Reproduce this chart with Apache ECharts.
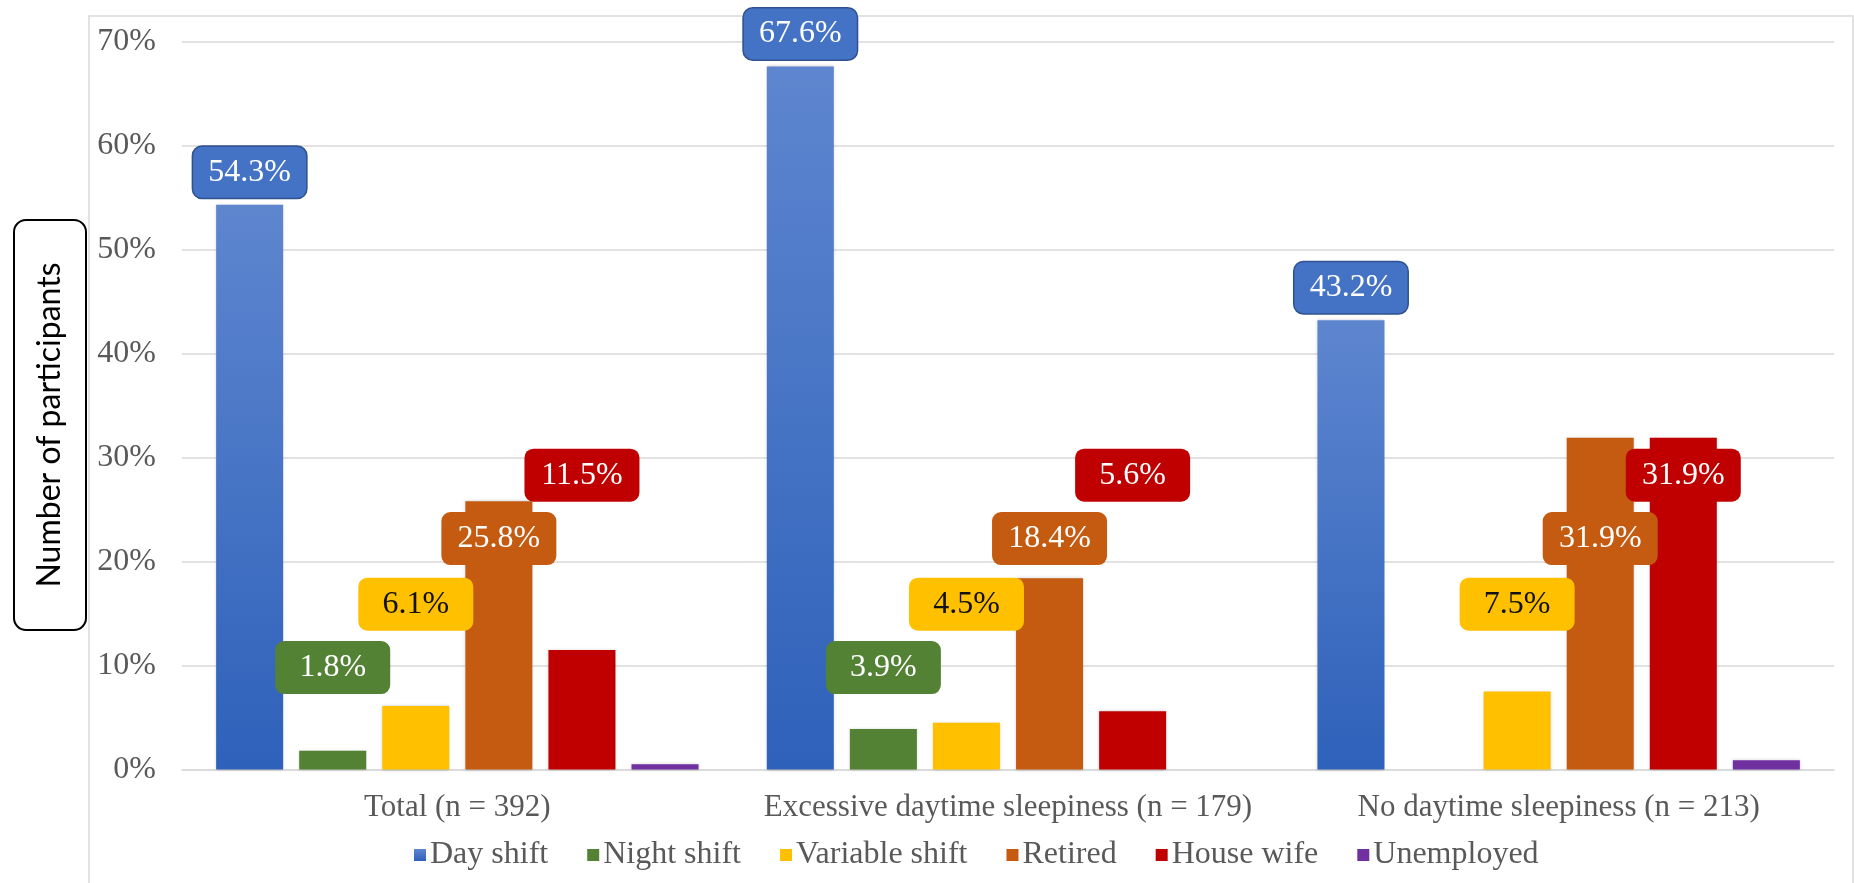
<!DOCTYPE html>
<html>
<head>
<meta charset="utf-8">
<script src="https://cdn.jsdelivr.net/npm/echarts@6/dist/echarts.min.js"></script>
<style>
  html, body { margin: 0; padding: 0; background: #ffffff; }
  #chart { width: 1854px; height: 883px; }
</style>
</head>
<body>
<div id="chart"></div>
<script>
// Occupation of participants by daytime sleepiness group (percent of each group)
const groups = ['Total (n = 392)', 'Excessive daytime sleepiness (n = 179)', 'No daytime sleepiness (n = 213)'];
const seriesNames = ['Day shift', 'Night shift', 'Variable shift', 'Retired', 'House wife', 'Unemployed'];
const dayShift = [54.3, 67.6, 43.2];
const nightShift = [1.8, 3.9, 0];
const variableShift = [6.1, 4.5, 7.5];
const retired = [25.8, 18.4, 31.9];
const houseWife = [11.5, 5.6, 31.9];
const unemployed = [0.5, 0, 0.9];
const yTicks = [0, 10, 20, 30, 40, 50, 60, 70];

const SERIF = '"Liberation Serif", "Times New Roman", serif';
const TEXT_GREY = '#595959';
const GRID_GREY = '#d9d9d9';

const colors = {
  day: '#4472C4',
  dayBorder: '#2F528F',
  night: '#548235',
  variable: '#FFC000',
  retired: '#C55A11',
  houseWife: '#C00000',
  unemployed: '#7030A0'
};

const pct = v => v.toFixed(1) + '%';

// Rounded callout box, 115 x 53 with 9px corners
const CALLOUT_PATH = 'path://M9,0 H106 A9,9 0 0 1 115,9 V44 A9,9 0 0 1 106,53 H9 A9,9 0 0 1 0,44 V9 A9,9 0 0 1 9,0 Z';

// Callout boxes that float at a fixed height above each group's bar
function callouts(values, level, fill, textColor) {
  const data = [];
  values.forEach((v, i) => {
    if (v > 0) data.push({ coord: [i, level], value: v });
  });
  return {
    symbol: CALLOUT_PATH,
    symbolSize: [115, 53],
    symbolKeepAspect: false,
    silent: true,
    itemStyle: { color: fill },
    label: {
      show: true,
      position: 'inside',
      formatter: p => pct(p.value),
      color: textColor,
      fontFamily: SERIF,
      fontSize: 32
    },
    data: data
  };
}

const barShadow = { shadowBlur: 3, shadowColor: 'rgba(0,0,0,0.22)' };

function bar(name, values, color, extra) {
  return Object.assign({
    name: name,
    type: 'bar',
    data: values,
    barWidth: 67,
    barGap: '24%',
    itemStyle: Object.assign({ color: color }, barShadow)
  }, extra || {});
}

const chart = echarts.init(document.getElementById('chart'), null, { renderer: 'canvas' });

chart.setOption({
  animation: false,
  backgroundColor: '#ffffff',
  color: [colors.day, colors.night, colors.variable, colors.retired, colors.houseWife, colors.unemployed],
  grid: { left: 182, right: 20, top: 41.5, bottom: 113.5, containLabel: false },
  graphic: [
    {
      type: 'rect', z: -10, silent: true,
      shape: { x: 89, y: 16, width: 1764, height: 900 },
      style: { fill: 'none', stroke: GRID_GREY, lineWidth: 1.5 }
    },
    {
      type: 'rect', silent: true,
      shape: { x: 14, y: 220, width: 72, height: 410, r: 12 },
      style: { fill: '#ffffff', stroke: '#000000', lineWidth: 2 }
    },
    {
      type: 'text', silent: true,
      x: 50, y: 425, rotation: Math.PI / 2,
      style: {
        text: 'Number of participants',
        font: '32px Lato, "Open Sans", sans-serif',
        fill: '#000000',
        align: 'center',
        verticalAlign: 'middle'
      }
    }
  ],
  legend: {
    data: seriesNames,
    left: 409,
    top: 834,
    icon: 'rect',
    itemWidth: 12,
    itemHeight: 12,
    itemGap: 39,
    textStyle: { fontFamily: SERIF, fontSize: 32, color: TEXT_GREY, padding: [0, 0, 0, -1] }
  },
  xAxis: {
    type: 'category',
    data: groups,
    axisTick: { show: false },
    axisLine: { show: true, lineStyle: { color: GRID_GREY, width: 1.5 } },
    axisLabel: { interval: 0, color: TEXT_GREY, fontFamily: SERIF, fontSize: 31, margin: 23 }
  },
  yAxis: {
    type: 'value',
    min: yTicks[0],
    max: yTicks[yTicks.length - 1],
    interval: yTicks[1] - yTicks[0],
    axisLine: { show: false },
    axisTick: { show: false },
    splitLine: { lineStyle: { color: GRID_GREY, width: 1.5 } },
    axisLabel: { formatter: '{value}%', color: TEXT_GREY, fontFamily: SERIF, fontSize: 32, margin: 26 }
  },
  series: [
    bar(seriesNames[0], dayShift, colors.day, {
      itemStyle: Object.assign({
        color: new echarts.graphic.LinearGradient(0, 0, 0, 1, [
          { offset: 0, color: '#5E86CF' },
          { offset: 1, color: '#2E61BA' }
        ])
      }, barShadow),
      label: {
        show: true,
        position: 'top',
        distance: 7,
        formatter: p => pct(p.value),
        backgroundColor: colors.day,
        borderColor: colors.dayBorder,
        borderWidth: 1.5,
        borderRadius: 9,
        width: 113,
        height: 51,
        lineHeight: 51,
        align: 'center',
        color: '#ffffff',
        fontFamily: SERIF,
        fontSize: 32
      }
    }),
    bar(seriesNames[1], nightShift, colors.night, { markPoint: callouts(nightShift, 9.8, colors.night, '#ffffff') }),
    bar(seriesNames[2], variableShift, colors.variable, { markPoint: callouts(variableShift, 15.9, colors.variable, '#111111') }),
    bar(seriesNames[3], retired, colors.retired, { markPoint: callouts(retired, 22.2, colors.retired, '#ffffff') }),
    bar(seriesNames[4], houseWife, colors.houseWife, { markPoint: callouts(houseWife, 28.3, colors.houseWife, '#ffffff') }),
    bar(seriesNames[5], unemployed, colors.unemployed)
  ]
});
</script>
</body>
</html>
